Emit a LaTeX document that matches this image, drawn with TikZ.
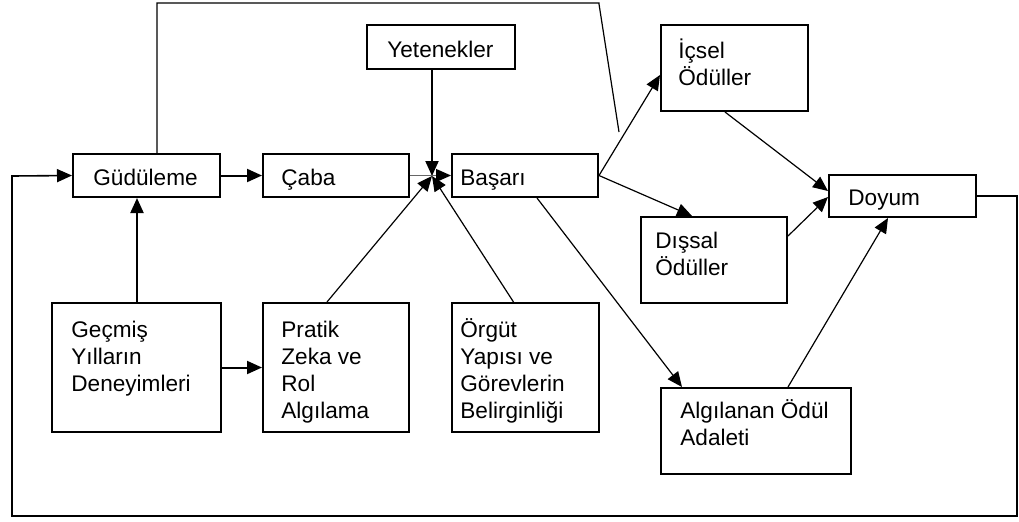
\documentclass[tikz,border=0pt]{standalone}
\usepackage{fontspec}
\setmainfont{Liberation Sans}
\usetikzlibrary{arrows.meta,calc}
\begin{document}
\begin{tikzpicture}[x=0.5pt,y=-0.5pt,
  every node/.style={font=\fontsize{11.3}{13.5}\selectfont},
  box/.style 2 args={draw=black,line width=1pt,rectangle,inner sep=0pt,
    minimum width=#1*0.5pt,minimum height=#2*0.5pt},
  lbl/.style={inner sep=0pt,anchor=base west,align=left},
  arr/.style={-{Triangle[length=7.5pt,width=6.5pt,color=black]}},
  thickln/.style={line width=1pt},
  thinln/.style={line width=0.6pt},
]
\useasboundingbox (0,0) rectangle (1019,521);
% boxes
\node[box={147}{43}]  (gud)  at (146.5,175.5) {};
\node[box={146}{43}]  (caba) at (336,175.5) {};
\node[box={148}{44}]  (yet)  at (441,47) {};
\node[box={146}{43}]  (bas)  at (525,175.5) {};
\node[box={147}{86}]  (ics)  at (734.5,68) {};
\node[box={147}{42}]  (doy)  at (902.5,196) {};
\node[box={146}{86}]  (dis)  at (714,260) {};
\node[box={169}{129}] (gec)  at (136.5,367.5) {};
\node[box={146}{129}] (pra)  at (336,367.5) {};
\node[box={147}{129}] (org)  at (525.5,367.5) {};
\node[box={190}{86}]  (alg)  at (756,431) {};
% labels
\node[lbl] (gudt)  at (93,185) {Güdüleme};
\node[lbl] (cabat) at (281,185) {Çaba};
\node[lbl] (yett)  at (387,57) {Yetenekler};
\node[lbl] (bast)  at (460,185) {Başarı};
\node[lbl] (doyt)  at (848,205) {Doyum};
\node[lbl] (icst)  at (678,58) {\begin{tabular}[t]{@{}l@{}}İçsel\\Ödüller\end{tabular}};
\node[lbl] (dist)  at (655,248) {\begin{tabular}[t]{@{}l@{}}Dışsal\\Ödüller\end{tabular}};
\node[lbl] (gect)  at (71,337) {\begin{tabular}[t]{@{}l@{}}Geçmiş\\Yılların\\Deneyimleri\end{tabular}};
\node[lbl] (prat)  at (281,337) {\begin{tabular}[t]{@{}l@{}}Pratik\\Zeka ve\\Rol\\Algılama\end{tabular}};
\node[lbl] (orgt)  at (460,337) {\begin{tabular}[t]{@{}l@{}}Örgüt\\Yapısı ve\\Görevlerin\\Belirginliği\end{tabular}};
\node[lbl] (algt)  at (680,418) {\begin{tabular}[t]{@{}l@{}}Algılanan Ödül\\Adaleti\end{tabular}};
% junction
\coordinate (J) at (432,176);
\coordinate (topend) at (619,132);
% connectors
\draw[arr,thickln] (gud.east) -- (caba.west);
\draw[arr,thickln] (gec.north) ++(0.5,0) coordinate (g1) -- (g1 |- gud.south);
\draw[arr,thickln] (gec.east) -- (pra.west);
\draw[arr,thickln] (J |- yet.south) -- (J);
\draw[arr,thinln] ($(pra.north)+(-9,0)$) -- (J);
\draw[arr,thinln] ($(org.north)+(-12,0)$) -- (J);
\draw[arr,line width=0.6pt,draw=black!60] (caba.east) -- (bas.west);
\draw[arr,thinln] (bas.east) -- ($(ics.west)+(0,7)$);
\draw[arr,thinln] (bas.east) -- ($(dis.north)+(-22,0)$);
\draw[arr,thinln] ($(bas.south)+(12,0)$) -- ($(alg.north)+(-74,0)$);
\draw[arr,thinln] ($(ics.south)+(-9.5,0)$) -- ($(doy.west)+(0,-5)$);
\draw[arr,thinln] ($(dis.north east)+(0,20)$) -- ($(doy.west)+(0,1)$);
\draw[arr,thinln] ($(alg.north east)+(-64,0)$) -- ($(doy.south)+(-14.5,0)$);
\draw[thinln] ($(gud.north)+(10.5,0)$) -- ++(0,-150) -| (599,4) -- (topend);
\draw[arr,line width=0.8pt] (doy.east) -- (1017,196) -- (1017,516) -- (12,516) -- (12,176) -- (gud.west);
\end{tikzpicture}
\end{document}
